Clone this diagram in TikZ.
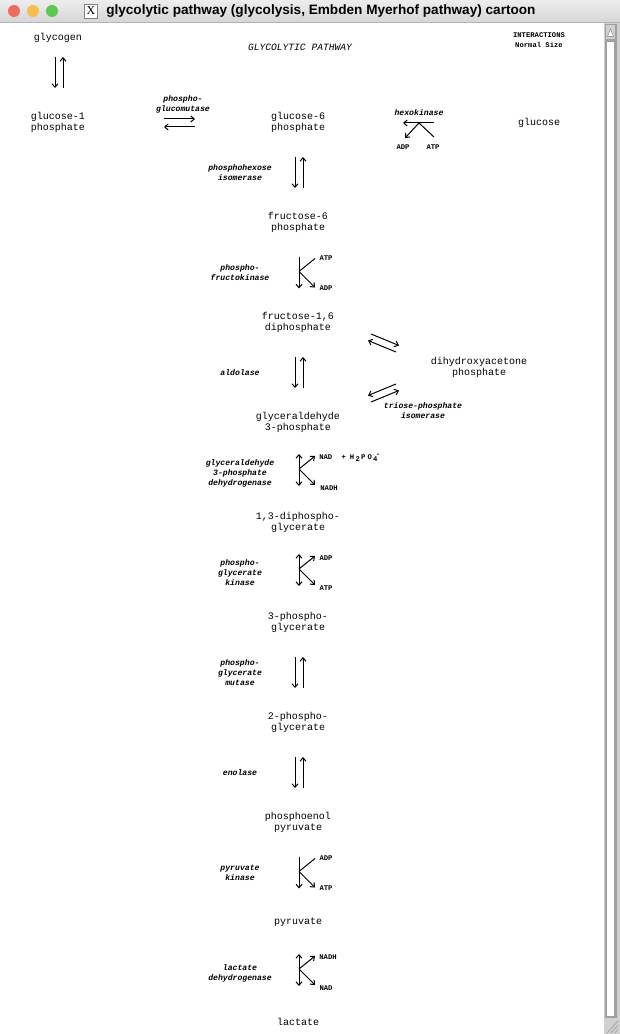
\documentclass[tikz,border=0pt]{standalone}
\usepackage{fontspec}
\setmainfont{Liberation Mono}
\newfontfamily\monof{Liberation Mono}
\newfontfamily\sansb{Liberation Sans}
\newfontfamily\serf{Liberation Serif}
\usetikzlibrary{arrows.meta}
\definecolor{tbtop}{HTML}{EDEDED}
\definecolor{tbbot}{HTML}{D6D6D6}
\definecolor{tbline}{HTML}{B4B4B4}
\definecolor{cred}{HTML}{EC6A5E}
\definecolor{cyel}{HTML}{F4BF4F}
\definecolor{cgrn}{HTML}{61C554}
\definecolor{sbgray}{HTML}{A0A0A0}
\definecolor{sblight}{HTML}{D0D0D0}
\begin{document}
\begin{tikzpicture}[x=0.75pt,y=-0.75pt,
  met/.style={font={\fontsize{7.5}{8.3}\selectfont\monof}, align=center, inner sep=0pt},
  enz/.style={font={\fontsize{6.1}{7.5}\selectfont\monof\bfseries\itshape}, align=center, inner sep=0pt},
  cof/.style={font={\fontsize{5.4}{7.5}\selectfont\monof\bfseries}, inner sep=0pt},
  ln/.style={line width=0.75pt},
  arr/.style={ln, -{Straight Barb[length=2.6pt,width=4.5pt]}},
  darr/.style={ln, {Straight Barb[length=2.6pt,width=4.5pt]}-{Straight Barb[length=2.6pt,width=4.5pt]}}
]
\useasboundingbox (0,0) rectangle (620,1034);
\fill[white] (0,0) rectangle (620,1034);
% ---------- window chrome ----------
\shade[top color=tbtop, bottom color=tbbot] (0,0) rectangle (620,22);
\draw[tbline, line width=0.75pt] (0,22.5) -- (620,22.5);
\fill[cred] (14,11) circle (6);
\fill[cyel] (33,11) circle (6);
\fill[cgrn] (52,11) circle (6);
\node[draw=gray, fill=white, minimum width=13*0.75pt, minimum height=14*0.75pt, inner sep=0pt,
      font={\fontsize{9}{9}\selectfont\serf}] (xicon) at (91,11) {X};
\node[font={\fontsize{10.2}{11}\selectfont\sansb\bfseries}, inner sep=0pt, anchor=west] (title) at (106,11)
  {glycolytic pathway (glycolysis, Embden Myerhof pathway) cartoon};
% scrollbar
\fill[sblight] (603,23) rectangle (620,1034);
\fill[white] (603,23) rectangle (604,1034);
\fill[sbgray] (604.5,24) rectangle (616.5,1018);
\fill[sblight] (606,25.5) rectangle (615,39);
\filldraw[fill=white, draw=sbgray, line width=0.5pt] (607.5,36.5) -- (613.5,36.5) -- (610.5,29) -- cycle;
\fill[white] (607,42) rectangle (614,1016);
\foreach \d in {4,8,12} {\draw[sbgray, line width=0.5pt] (618,{1033-\d}) -- ({618-\d+1},1033);}
% ---------- headings ----------
\node[met, font={\fontsize{7.2}{8}\selectfont\monof\itshape}] (head) at (300,47) {GLYCOLYTIC PATHWAY};
\node[cof, align=center, font={\fontsize{5.4}{7.6}\selectfont\monof\bfseries}] (inter) at (539,40) {INTERACTIONS\\Normal Size};
% ---------- metabolites ----------
\node[met] (glycogen) at (58,38) {glycogen};
\node[met] (g1p) at (58,122.5) {glucose-1\\phosphate};
\node[met] (g6p) at (298,122.5) {glucose-6\\phosphate};
\node[met] (glucose) at (539,123) {glucose};
\node[met] (f6p) at (298,222.5) {fructose-6\\phosphate};
\node[met] (f16) at (298,322.5) {fructose-1,6\\diphosphate};
\node[met] (dhap) at (479,367.5) {dihydroxyacetone\\phosphate};
\node[met] (g3p) at (298,422.5) {glyceraldehyde\\3-phosphate};
\node[met] (bpg) at (298,522.5) {1,3-diphospho-\\glycerate};
\node[met] (pg3) at (298,622.5) {3-phospho-\\glycerate};
\node[met] (pg2) at (298,722.5) {2-phospho-\\glycerate};
\node[met] (pep) at (298,822.5) {phosphoenol\\pyruvate};
\node[met] (pyr) at (298,922) {pyruvate};
\node[met] (lac) at (298,1022) {lactate};
% ---------- enzymes ----------
\node[enz] (pgmase) at (183,104) {phospho-\\glucomutase};
\node[enz] (hexo) at (419,113) {hexokinase};
\node[enz] (phi) at (240,173) {phosphohexose\\isomerase};
\node[enz] (pfk) at (240,273) {phospho-\\fructokinase};
\node[enz] (ald) at (240,373) {aldolase};
\node[enz] (tpi) at (423,411) {triose-phosphate\\isomerase};
\node[enz] (gapdh) at (240,473) {glyceraldehyde\\3-phosphate\\dehydrogenase};
\node[enz] (pgk) at (240,573) {phospho-\\glycerate\\kinase};
\node[enz] (pgmut) at (240,673) {phospho-\\glycerate\\mutase};
\node[enz] (eno) at (240,773) {enolase};
\node[enz] (pk) at (240,873) {pyruvate\\kinase};
\node[enz] (ldh) at (240,973) {lactate\\dehydrogenase};
% ---------- cofactors ----------
\node[cof] (adp1) at (403,147) {ADP};
\node[cof] (atp1) at (433,147) {ATP};
\node[cof] (atp2) at (326,258) {ATP};
\node[cof] (adp2) at (326,288) {ADP};
\node[cof, anchor=west] (nad1) at (319,458)
  {NAD\hspace{7pt}+\hspace{3pt}H\hspace{1pt}\raisebox{-1.6pt}{2}\hspace{1pt}P\hspace{1.5pt}O\hspace{1pt}\raisebox{-1.6pt}{4}\hspace{-1.2pt}\raisebox{2.6pt}{-}};
\node[cof] (nadh1) at (329,488) {NADH};
\node[cof] (adp3) at (326,558) {ADP};
\node[cof] (atp3) at (326,588) {ATP};
\node[cof] (adp4) at (326,858) {ADP};
\node[cof] (atp4) at (326,888) {ATP};
\node[cof] (nadh2) at (328,957) {NADH};
\node[cof] (nad2) at (326,988) {NAD};
% ---------- connectors ----------
\newcommand{\revpair}[3]{% x, ytop, ybot
  \coordinate (rpa) at ({#1-4},#2); \coordinate (rpb) at ({#1-4},#3);
  \coordinate (rpc) at ({#1+4},#3); \coordinate (rpd) at ({#1+4},#2);
  \draw[arr] (rpa) -- (rpb);
  \draw[arr] (rpc) -- (rpd);}
\revpair{59}{57}{88}
\revpair{299}{157}{188}
\revpair{299}{357}{388}
\revpair{299}{657}{688}
\revpair{299}{757}{788}
% phosphoglucomutase horizontal pair
\coordinate (hA) at (164,119); \coordinate (hB) at (195,119);
\coordinate (hC) at (195,127); \coordinate (hD) at (164,127);
\draw[arr] (hA) -- (hB);
\draw[arr] (hC) -- (hD);
% hexokinase
\coordinate (hxR) at (434,123); \coordinate (hxL) at (403,123);
\coordinate (hxJ) at (419,123); \coordinate (hxADP) at (405,138); \coordinate (hxATP) at (434,137);
\draw[arr] (hxR) -- (hxL);
\draw[ln] (hxATP) -- (hxJ);
\draw[arr] (hxJ) -- (hxADP);
% K shapes
\newcommand{\kshape}[3]{% y centre, vertical style, upper diagonal style
  \coordinate (kT) at (299,{#1-16}); \coordinate (kB) at (299,{#1+16});
  \coordinate (kJ) at (299,{#1-1}); \coordinate (kU) at (315,{#1-14}); \coordinate (kL) at (315,{#1+15});
  \draw[#2] (kT) -- (kB);
  \draw[#3] (kJ) -- (kU);
  \draw[arr] (kJ) -- (kL);}
\kshape{272.5}{arr}{ln}
\kshape{470}{darr}{arr}
\kshape{570}{darr}{arr}
\kshape{872.5}{arr}{ln}
\kshape{970}{darr}{arr}
% triose phosphate connections
\coordinate (t1a) at (371,334); \coordinate (t1b) at (399,345.5);
\coordinate (t2a) at (396,352); \coordinate (t2b) at (368,340.5);
\draw[arr] (t1a) -- (t1b);
\draw[arr] (t2a) -- (t2b);
\coordinate (t3a) at (396,384); \coordinate (t3b) at (368,395.5);
\coordinate (t4a) at (371,402); \coordinate (t4b) at (399,390.5);
\draw[arr] (t3a) -- (t3b);
\draw[arr] (t4a) -- (t4b);
\end{tikzpicture}
\end{document}
